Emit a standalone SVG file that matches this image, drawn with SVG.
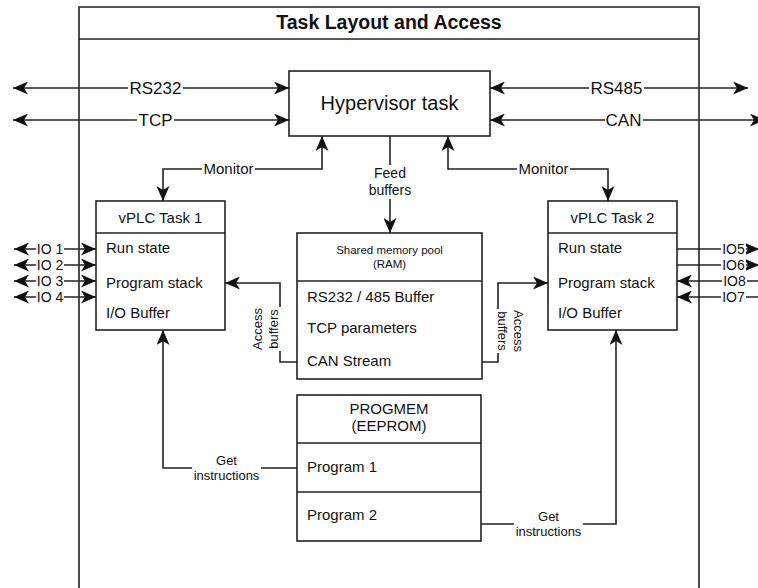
<svg xmlns="http://www.w3.org/2000/svg" width="758" height="588" viewBox="0 0 758 588">
<style>
  .box{fill:#fff;stroke:#222;stroke-width:1.6}
  .ln{fill:none;stroke:#222;stroke-width:1.6}
  .t{font-family:"Liberation Sans",Arial,sans-serif;fill:#111}
  .big{font-size:20px}
  .ttl{font-size:19.5px;font-weight:bold}
  .row{font-size:15px}
  .sm{font-size:11.5px}
  .lb17{font-size:17px}
  .lb15{font-size:15px}
  .lb14{font-size:14px}
  .lb13{font-size:13px}
  .bg{fill:#fff}
  .mid{text-anchor:middle}
</style>
<defs>
  <marker id="ah" viewBox="0 0 15 13" refX="15" refY="6.5" markerWidth="15" markerHeight="13" markerUnits="userSpaceOnUse" orient="auto-start-reverse">
    <path d="M0,0 L15,6.5 L0,13 L4,6.5 z" fill="#111"/>
  </marker>
</defs>
<rect width="758" height="588" fill="#fff"/>

<g id="frame">
  <path class="ln" d="M79,590 V7 H699 V590"/>
  <line class="ln" x1="79" y1="39" x2="699" y2="39"/>
  <text class="t ttl mid" x="389" y="29">Task Layout and Access</text>
</g>

<g id="connectors">
  <line class="ln" x1="13" y1="88" x2="289" y2="88" marker-start="url(#ah)" marker-end="url(#ah)"/>
  <line class="ln" x1="13" y1="120" x2="289" y2="120" marker-start="url(#ah)" marker-end="url(#ah)"/>
  <line class="ln" x1="490" y1="88" x2="748" y2="88" marker-start="url(#ah)" marker-end="url(#ah)"/>
  <line class="ln" x1="490" y1="120" x2="765" y2="120" marker-start="url(#ah)" marker-end="url(#ah)"/>
  <path class="ln" d="M322,136 V169 H163 V201" marker-start="url(#ah)" marker-end="url(#ah)"/>
  <path class="ln" d="M448,136 V169 H608 V201" marker-start="url(#ah)" marker-end="url(#ah)"/>
  <path class="ln" d="M390,136 V233" marker-end="url(#ah)"/>
  <line class="ln" x1="14" y1="249" x2="96" y2="249" marker-start="url(#ah)" marker-end="url(#ah)"/>
  <line class="ln" x1="14" y1="265" x2="96" y2="265" marker-start="url(#ah)" marker-end="url(#ah)"/>
  <line class="ln" x1="14" y1="281" x2="96" y2="281" marker-start="url(#ah)" marker-end="url(#ah)"/>
  <line class="ln" x1="14" y1="297" x2="96" y2="297" marker-start="url(#ah)" marker-end="url(#ah)"/>
  <line class="ln" x1="677" y1="249" x2="759" y2="249" marker-end="url(#ah)"/>
  <line class="ln" x1="677" y1="265" x2="759" y2="265" marker-end="url(#ah)"/>
  <line class="ln" x1="760" y1="281" x2="677" y2="281" marker-end="url(#ah)"/>
  <line class="ln" x1="760" y1="297" x2="677" y2="297" marker-end="url(#ah)"/>
  <path class="ln" d="M297,362 H280 V283 H225" marker-end="url(#ah)"/>
  <path class="ln" d="M482,362 H498 V283 H548" marker-end="url(#ah)"/>
  <path class="ln" d="M297,468 H163 V330" marker-end="url(#ah)"/>
  <path class="ln" d="M481,524 H616 V330" marker-end="url(#ah)"/>

  <rect class="bg" x="128" y="80" width="55" height="16"/>
  <text class="t lb17 mid" x="155.5" y="94">RS232</text>
  <rect class="bg" x="137" y="112" width="37" height="16"/>
  <text class="t lb17 mid" x="155.5" y="126">TCP</text>
  <rect class="bg" x="589" y="80" width="55" height="16"/>
  <text class="t lb17 mid" x="616.5" y="94">RS485</text>
  <rect class="bg" x="605" y="112" width="38" height="16"/>
  <text class="t lb17 mid" x="623.5" y="126">CAN</text>

  <rect class="bg" x="202" y="161" width="53" height="16"/>
  <text class="t lb15 mid" x="228.5" y="174">Monitor</text>
  <rect class="bg" x="517" y="161" width="53" height="16"/>
  <text class="t lb15 mid" x="543.5" y="174">Monitor</text>

  <rect class="bg" x="366" y="165" width="48" height="34"/>
  <text class="t lb14 mid" x="390" y="178">Feed</text>
  <text class="t lb14 mid" x="390" y="195">buffers</text>

  <rect class="bg" x="36" y="242" width="28" height="14"/>
  <text class="t lb14 mid" x="50" y="254">IO 1</text>
  <rect class="bg" x="36" y="258" width="28" height="14"/>
  <text class="t lb14 mid" x="50" y="270">IO 2</text>
  <rect class="bg" x="36" y="274" width="28" height="14"/>
  <text class="t lb14 mid" x="50" y="286">IO 3</text>
  <rect class="bg" x="36" y="290" width="28" height="14"/>
  <text class="t lb14 mid" x="50" y="302">IO 4</text>

  <rect class="bg" x="721" y="242" width="25" height="14"/>
  <text class="t lb14 mid" x="733.5" y="254">IO5</text>
  <rect class="bg" x="721" y="258" width="25" height="14"/>
  <text class="t lb14 mid" x="733.5" y="270">IO6</text>
  <rect class="bg" x="722" y="274" width="25" height="14"/>
  <text class="t lb14 mid" x="734.5" y="286">IO8</text>
  <rect class="bg" x="721" y="290" width="25" height="14"/>
  <text class="t lb14 mid" x="733.5" y="302">IO7</text>

  <g transform="translate(265,329) rotate(-90)">
    <rect class="bg" x="-22" y="-14" width="44" height="31"/>
    <text class="t lb13 mid" x="0" y="-3">Access</text>
    <text class="t lb13 mid" x="0" y="13">buffers</text>
  </g>
  <g transform="translate(511,331) rotate(90)">
    <rect class="bg" x="-22" y="-14" width="44" height="31"/>
    <text class="t lb13 mid" x="0" y="-3">Access</text>
    <text class="t lb13 mid" x="0" y="13">buffers</text>
  </g>

  <rect class="bg" x="192" y="453" width="69" height="31"/>
  <text class="t lb13 mid" x="226.5" y="465">Get</text>
  <text class="t lb13 mid" x="226.5" y="480">instructions</text>
  <rect class="bg" x="514" y="509" width="69" height="31"/>
  <text class="t lb13 mid" x="548.5" y="521">Get</text>
  <text class="t lb13 mid" x="548.5" y="536">instructions</text>
</g>

<g id="hypervisor">
  <rect class="box" x="289" y="71" width="201" height="65"/>
  <text class="t big mid" x="389.5" y="110">Hypervisor task</text>
</g>

<g id="vplc1">
  <rect class="box" x="96" y="201" width="129" height="129"/>
  <line class="ln" x1="96" y1="233" x2="225" y2="233"/>
  <text class="t row mid" x="160.5" y="223">vPLC Task 1</text>
  <text class="t row" x="106" y="253">Run state</text>
  <text class="t row" x="106" y="288">Program stack</text>
  <text class="t row" x="106" y="318">I/O Buffer</text>
</g>

<g id="vplc2">
  <rect class="box" x="548" y="201" width="129" height="129"/>
  <line class="ln" x1="548" y1="233" x2="677" y2="233"/>
  <text class="t row mid" x="612.5" y="223">vPLC Task 2</text>
  <text class="t row" x="558" y="253">Run state</text>
  <text class="t row" x="558" y="288">Program stack</text>
  <text class="t row" x="558" y="318">I/O Buffer</text>
</g>

<g id="shared-memory">
  <rect class="box" x="297" y="233" width="185" height="146"/>
  <line class="ln" x1="297" y1="281" x2="482" y2="281"/>
  <text class="t sm mid" x="389.5" y="254">Shared memory pool</text>
  <text class="t sm mid" x="389.5" y="268">(RAM)</text>
  <text class="t row" x="307" y="302">RS232 / 485 Buffer</text>
  <text class="t row" x="307" y="333">TCP parameters</text>
  <text class="t row" x="307" y="366">CAN Stream</text>
</g>

<g id="progmem">
  <rect class="box" x="297" y="395" width="184" height="146"/>
  <line class="ln" x1="297" y1="443" x2="481" y2="443"/>
  <line class="ln" x1="297" y1="492" x2="481" y2="492"/>
  <text class="t row mid" x="389" y="414">PROGMEM</text>
  <text class="t row mid" x="389" y="431">(EEPROM)</text>
  <text class="t row" x="307" y="472">Program 1</text>
  <text class="t row" x="307" y="520">Program 2</text>
</g>
</svg>
